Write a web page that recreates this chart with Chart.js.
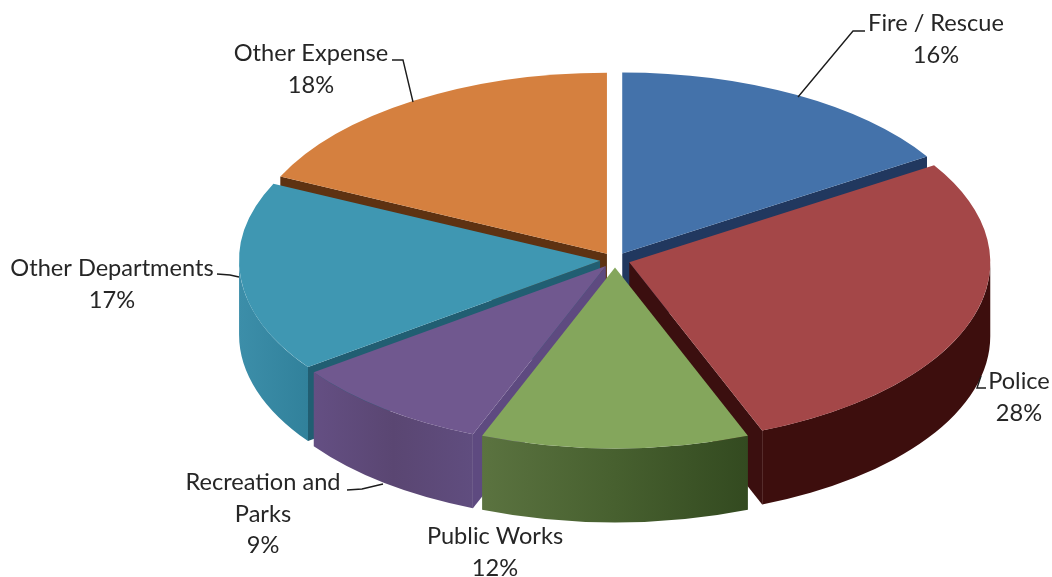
<html>
	<head>
		<title>Expenditures by Department</title>
		<meta charset="utf-8" />
		<script src="https://cdn.jsdelivr.net/npm/chart.js@4/dist/chart.umd.js"></script>
		<style>
			html, body { margin: 0; padding: 0; background: #fff; }
			canvas { display: block; }
		</style>
	</head>
	<body>
		<canvas id="gmChart" width="1052" height="577"></canvas>
		<script>
			const categories = ['Fire / Rescue', 'Police', 'Public Works', 'Recreation and Parks', 'Other Departments', 'Other Expense'];
			const percentages = [16, 28, 12, 9, 17, 18];

			const topColors = ['#4472aa', '#a44748', '#84a65c', '#70588f', '#3f97b2', '#d5803f'];
			const cutColors = ['#21385f', '#3b0f0f', '#3a4f25', '#5e4a80', '#215e72', '#5e3212'];
			const wallStops = [
				['#21385f', '#21385f'],
				['#3d0e0d', '#3d0e0d'],
				['#5b7340', '#47602f', '#334a20'],
				['#644f83', '#5a4672', '#604d7f'],
				['#3c8ea9', '#31819b'],
				['#5e3212', '#5e3212']
			];

			// label lines, centre x, first line y and the leader polyline of each slice
			const labelBoxes = [
				{ lines: ['Fire / Rescue'], x: 936, y: 23.5, leader: [[865, 31], [853, 31], [798, 97]] },
				{ lines: ['Police'], x: 1019, y: 381.5, leader: [[981, 376], [977, 388], [986, 388]] },
				{ lines: ['Public Works'], x: 495, y: 536.5, leader: [] },
				{ lines: ['Recreation and', 'Parks'], x: 263, y: 482.5, leader: [[347, 490], [362, 489], [383, 484]] },
				{ lines: ['Other Departments'], x: 112, y: 268.5, leader: [[217, 274], [230, 275], [239, 277]] },
				{ lines: ['Other Expense'], x: 311, y: 53.5, leader: [[392, 60], [403, 60], [413, 102]] }
			];

			const RADIUS_X = 361;
			const RADIUS_Y = 181;
			const DEPTH = 74;
			const EXPLODE = 15;
			const LINE_HEIGHT = 31.5;

			// where the top face of an arc lands once it is pulled out and flattened
			function apexOf(arc) {
				const mid = (arc.startAngle + arc.endAngle) / 2;
				return {
					x: arc.x + Math.cos(mid) * EXPLODE,
					y: arc.y + Math.sin(mid) * EXPLODE * RADIUS_Y / RADIUS_X
				};
			}

			function drawRim(ctx, arc, index, from, to) {
				const p = apexOf(arc);
				const left = p.x + RADIUS_X * Math.cos(to);
				const right = p.x + RADIUS_X * Math.cos(from);
				const grad = ctx.createLinearGradient(left, 0, right, 0);
				wallStops[index].forEach((c, i, all) => grad.addColorStop(i / (all.length - 1), c));
				ctx.fillStyle = grad;
				ctx.beginPath();
				ctx.ellipse(p.x, p.y, RADIUS_X, RADIUS_Y, 0, from, to);
				ctx.ellipse(p.x, p.y + DEPTH, RADIUS_X, RADIUS_Y, 0, to, from, true);
				ctx.closePath();
				ctx.fill();
			}

			function drawCut(ctx, arc, index, angle) {
				const p = apexOf(arc);
				const cx = p.x + RADIUS_X * Math.cos(angle);
				const cy = p.y + RADIUS_Y * Math.sin(angle);
				ctx.fillStyle = cutColors[index];
				ctx.beginPath();
				ctx.moveTo(p.x, p.y);
				ctx.lineTo(cx, cy);
				ctx.lineTo(cx, cy + DEPTH);
				ctx.lineTo(p.x, p.y + DEPTH);
				ctx.closePath();
				ctx.fill();
			}

			function drawWalls(ctx, arc, index) {
				// a cut face shows when its outward normal points down the screen
				if (Math.sin(arc.startAngle - Math.PI / 2) > 0.001) {
					drawCut(ctx, arc, index, arc.startAngle);
				}
				if (Math.sin(arc.endAngle + Math.PI / 2) > 0.001) {
					drawCut(ctx, arc, index, arc.endAngle);
				}
				[0, 2 * Math.PI].forEach(turn => {
					const from = Math.max(arc.startAngle, turn);
					const to = Math.min(arc.endAngle, turn + Math.PI);
					if (to > from) {
						drawRim(ctx, arc, index, from, to);
					}
				});
			}

			const pie3d = {
				id: 'pie3d',
				beforeDatasetDraw(chart, args) {
					const ctx = chart.ctx;
					const arcs = args.meta.data;
					const order = arcs.map((a, i) => i).sort((a, b) => apexOf(arcs[a]).y - apexOf(arcs[b]).y);

					// back slices first so nearer walls cover them
					order.forEach(i => drawWalls(ctx, arcs[i], i));

					order.forEach(i => {
						const arc = arcs[i];
						const p = apexOf(arc);
						ctx.save();
						ctx.translate(p.x, p.y);
						ctx.scale(RADIUS_X / arc.outerRadius, RADIUS_Y / arc.outerRadius);
						ctx.translate(-arc.x, -arc.y);
						arc.draw(ctx);
						ctx.restore();
					});
					return false;
				},
				afterDraw(chart) {
					const ctx = chart.ctx;
					ctx.save();
					ctx.strokeStyle = '#1c1c1c';
					ctx.lineWidth = 1.4;
					ctx.font = '23.6px Lato';
					ctx.fillStyle = '#262626';
					ctx.textAlign = 'center';
					ctx.textBaseline = 'middle';
					labelBoxes.forEach((box, i) => {
						if (box.leader.length) {
							ctx.beginPath();
							box.leader.forEach((pt, n) => n ? ctx.lineTo(pt[0], pt[1]) : ctx.moveTo(pt[0], pt[1]));
							ctx.stroke();
						}
						const text = box.lines.concat(percentages[i] + '%');
						text.forEach((line, n) => ctx.fillText(line, box.x, box.y + n * LINE_HEIGHT));
					});
					ctx.restore();
				}
			};

			const data = {
				labels: categories,
				datasets: [{
					data: percentages,
					backgroundColor: topColors,
					borderWidth: 0,
					clip: false
				}]
			};

			const config = {
				type: 'pie',
				data: data,
				plugins: [pie3d],
				options: {
					responsive: false,
					animation: false,
					layout: { padding: { left: 178, right: 0, top: 0, bottom: 57 } },
					plugins: {
						legend: { display: false },
						tooltip: { enabled: false }
					}
				}
			};

			var myChart = new Chart(document.getElementById('gmChart'), config);
		</script>
	</body>
</html>
